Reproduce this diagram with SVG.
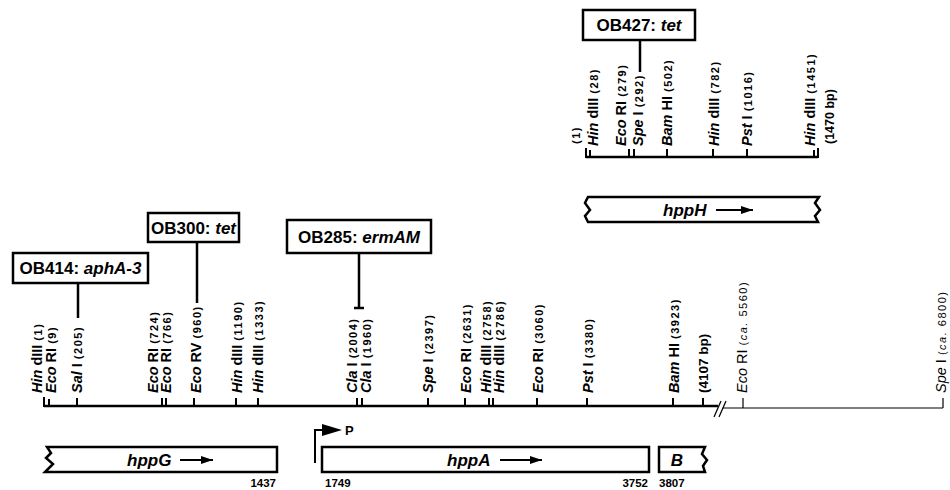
<svg xmlns="http://www.w3.org/2000/svg" width="950" height="490" viewBox="0 0 950 490">
<style>
text { font-family: "Liberation Sans", Arial, Helvetica, sans-serif; fill: #000; }
.l { font-size: 14.5px; font-weight: bold; }
.lr { font-size: 14.5px; font-weight: normal; }
.i { font-style: italic; }
.n { font-size: 11px; letter-spacing: 1.5px; }
.bx { font-size: 17px; font-weight: bold; }
.gn { font-size: 17px; font-weight: bold; font-style: italic; }
.num { font-size: 11.5px; font-weight: bold; }
.box { fill: #fff; stroke: #000; stroke-width: 2.5; }
.gene { fill: #fff; stroke: #000; stroke-width: 2.5; stroke-linejoin: miter; }
.base { stroke: #000; stroke-width: 2.5; fill: none; }
.tick { stroke: #000; stroke-width: 2; }
.thin { stroke: #000; stroke-width: 1.2; fill: none; }
.conn { stroke: #000; stroke-width: 2.5; fill: none; }
.arr { stroke: #000; stroke-width: 1.8; fill: none; }
</style>
<defs>
<marker id="ah" viewBox="0 0 12 8" refX="12" refY="4" markerWidth="12" markerHeight="8" markerUnits="userSpaceOnUse" orient="auto">
<path d="M0,0 L12,4 L0,8 Z" fill="#000"/>
</marker>
</defs>

<!-- main map axis -->
<g id="main-map">
<line class="base" x1="44" y1="406" x2="718" y2="406"/>
<line class="thin" x1="723" y1="408" x2="943" y2="408"/>
<line class="thin" x1="714" y1="417" x2="721" y2="401"/>
<line class="thin" x1="719" y1="417" x2="726" y2="401"/>
<g class="tick">
<line x1="44" y1="397" x2="44" y2="407"/>
<line x1="49" y1="399" x2="49" y2="406"/>
<line x1="77" y1="398" x2="77" y2="406"/>
<line x1="162" y1="398" x2="162" y2="406"/>
<line x1="166" y1="398" x2="166" y2="406"/>
<line x1="194" y1="398" x2="194" y2="406"/>
<line x1="236" y1="398" x2="236" y2="406"/>
<line x1="258" y1="398" x2="258" y2="406"/>
<line x1="357" y1="398" x2="357" y2="406"/>
<line x1="362" y1="398" x2="362" y2="406"/>
<line x1="428" y1="398" x2="428" y2="406"/>
<line x1="465" y1="398" x2="465" y2="406"/>
<line x1="489" y1="398" x2="489" y2="406"/>
<line x1="493" y1="398" x2="493" y2="406"/>
<line x1="537" y1="398" x2="537" y2="406"/>
<line x1="587" y1="398" x2="587" y2="406"/>
<line x1="673" y1="398" x2="673" y2="406"/>
<line x1="703" y1="398" x2="703" y2="407"/>
</g>
<line class="thin" x1="743" y1="398" x2="743" y2="408"/>
<line class="thin" x1="943" y1="398" x2="943" y2="408"/>
</g>

<g id="main-labels">
<text class="l" transform="translate(42,393) rotate(-90)"><tspan class="i">Hin</tspan> dIII <tspan class="n">(1)</tspan></text>
<text class="l" transform="translate(56,393) rotate(-90)"><tspan class="i">Eco</tspan> RI <tspan class="n">(9)</tspan></text>
<text class="l" transform="translate(82,393) rotate(-90)"><tspan class="i">Sal</tspan> I <tspan class="n">(205)</tspan></text>
<text class="l" transform="translate(158,393) rotate(-90)"><tspan class="i">Eco</tspan> RI <tspan class="n">(724)</tspan></text>
<text class="l" transform="translate(171,393) rotate(-90)"><tspan class="i">Eco</tspan> RI <tspan class="n">(766)</tspan></text>
<text class="l" transform="translate(201,393) rotate(-90)"><tspan class="i">Eco</tspan> RV <tspan class="n">(960)</tspan></text>
<text class="l" transform="translate(242,393) rotate(-90)"><tspan class="i">Hin</tspan> dIII <tspan class="n">(1190)</tspan></text>
<text class="l" transform="translate(263,393) rotate(-90)"><tspan class="i">Hin</tspan> dIII <tspan class="n">(1333)</tspan></text>
<text class="l" transform="translate(357,393) rotate(-90)"><tspan class="i">Cla</tspan> I <tspan class="n">(2004)</tspan></text>
<text class="l" transform="translate(371,393) rotate(-90)"><tspan class="i">Cla</tspan> I <tspan class="n">(1960)</tspan></text>
<text class="l" transform="translate(433,393) rotate(-90)"><tspan class="i">Spe</tspan> I <tspan class="n">(2397)</tspan></text>
<text class="l" transform="translate(471,393) rotate(-90)"><tspan class="i">Eco</tspan> RI <tspan class="n">(2631)</tspan></text>
<text class="l" transform="translate(491,393) rotate(-90)"><tspan class="i">Hin</tspan> dIII <tspan class="n">(2758)</tspan></text>
<text class="l" transform="translate(504,393) rotate(-90)"><tspan class="i">Hin</tspan> dIII <tspan class="n">(2786)</tspan></text>
<text class="l" transform="translate(543,393) rotate(-90)"><tspan class="i">Eco</tspan> RI <tspan class="n">(3060)</tspan></text>
<text class="l" transform="translate(593,393) rotate(-90)"><tspan class="i">Pst</tspan> I <tspan class="n">(3380)</tspan></text>
<text class="l" transform="translate(679,393) rotate(-90)"><tspan class="i">Bam</tspan> HI <tspan class="n">(3923)</tspan></text>
<text class="l" transform="translate(708,393) rotate(-90)" style="font-size:13.5px">(4107 bp)</text>
<text class="lr" transform="translate(747,393) rotate(-90)"><tspan class="i">Eco</tspan> RI <tspan class="n">(<tspan class="i">ca.</tspan> 5560)</tspan></text>
<text class="lr" transform="translate(946,393) rotate(-90)"><tspan class="i">Spe</tspan> I <tspan class="n">(<tspan class="i">ca.</tspan> 6800)</tspan></text>
</g>

<!-- hppH map -->
<g id="hppH-map">
<line class="base" x1="586" y1="157" x2="818" y2="157"/>
<g class="tick">
<line x1="586" y1="148" x2="586" y2="158"/>
<line x1="590" y1="150" x2="590" y2="157"/>
<line x1="629" y1="149" x2="629" y2="157"/>
<line x1="634" y1="149" x2="634" y2="157"/>
<line x1="667" y1="149" x2="667" y2="157"/>
<line x1="713" y1="149" x2="713" y2="157"/>
<line x1="747" y1="149" x2="747" y2="157"/>
<line x1="814" y1="150" x2="814" y2="157"/>
<line x1="818" y1="148" x2="818" y2="158"/>
</g>
</g>
<g id="hppH-labels">
<text class="l" transform="translate(580,144) rotate(-90)"><tspan class="n">(1)</tspan></text>
<text class="l" transform="translate(598,146) rotate(-90)"><tspan class="i">Hin</tspan> dIII <tspan class="n">(28)</tspan></text>
<text class="l" transform="translate(626,146) rotate(-90)"><tspan class="i">Eco</tspan> RI <tspan class="n">(279)</tspan></text>
<text class="l" transform="translate(643,146) rotate(-90)"><tspan class="i">Spe</tspan> I <tspan class="n">(292)</tspan></text>
<text class="l" transform="translate(672,146) rotate(-90)"><tspan class="i">Bam</tspan> HI <tspan class="n">(502)</tspan></text>
<text class="l" transform="translate(719,146) rotate(-90)"><tspan class="i">Hin</tspan> dIII <tspan class="n">(782)</tspan></text>
<text class="l" transform="translate(752,146) rotate(-90)"><tspan class="i">Pst</tspan> I <tspan class="n">(1016)</tspan></text>
<text class="l" transform="translate(815,146) rotate(-90)"><tspan class="i">Hin</tspan> dIII <tspan class="n">(1451)</tspan></text>
<text class="l" transform="translate(834,144) rotate(-90)" style="font-size:12.5px">(1470 bp)</text>
</g>

<!-- insertion boxes -->
<g id="OB414">
<rect class="box" x="13" y="253" width="135" height="30"/>
<text class="bx" x="80.5" y="274" text-anchor="middle">OB414: <tspan class="i">aphA-3</tspan></text>
</g>
<g id="OB300">
<rect class="box" x="148" y="213" width="91" height="29"/>
<text class="bx" x="193.5" y="233.5" text-anchor="middle">OB300: <tspan class="i">tet</tspan></text>
</g>
<g id="OB285">
<rect class="box" x="287" y="220" width="144" height="33"/>
<text class="bx" x="359" y="242.5" text-anchor="middle">OB285: <tspan class="i">ermAM</tspan></text>
</g>
<g id="OB427">
<rect class="box" x="583" y="10" width="112" height="30"/>
<text class="bx" x="639" y="31" text-anchor="middle">OB427: <tspan class="i">tet</tspan></text>
</g>

<g id="connectors">
<line class="conn" x1="78" y1="283" x2="78" y2="318"/>
<line class="conn" x1="197" y1="242" x2="197" y2="303"/>
<line class="conn" x1="359" y1="253" x2="359" y2="308"/>
<line class="conn" x1="354" y1="308" x2="364" y2="308"/>
<line class="conn" x1="640" y1="40" x2="640" y2="72"/>
</g>

<!-- genes -->
<g id="hppH">
<path class="gene" d="M588,197 L819,197 L815,203 L820,210 L815,216 L818,222 L588,222 L585,216 L590,210 L585,203 Z"/>
<text class="gn" x="663" y="216">hppH</text>
<line class="arr" x1="716" y1="210" x2="753" y2="210" marker-end="url(#ah)"/>
</g>
<g id="hppG">
<path class="gene" d="M47,447 L277,447 L277,472 L45,472 L53,464 L46,458 L51,453 Z"/>
<text class="gn" x="127" y="466">hppG</text>
<line class="arr" x1="180" y1="460" x2="213" y2="460" marker-end="url(#ah)"/>
<text class="num" x="276" y="487" text-anchor="end">1437</text>
</g>
<g id="promoter">
<path class="arr" d="M315,463 L315,430 L323,430" style="stroke-width:2"/>
<path d="M322,424 L342,430 L322,436 Z" fill="#000"/>
<text class="num" x="345" y="435" style="font-size:13px">P</text>
</g>
<g id="hppA">
<rect class="gene" x="322" y="447" width="327" height="25"/>
<text class="gn" x="447" y="466">hppA</text>
<line class="arr" x1="500" y1="460" x2="542" y2="460" marker-end="url(#ah)"/>
<text class="num" x="325" y="487">1749</text>
<text class="num" x="648" y="487" text-anchor="end">3752</text>
</g>
<g id="B">
<path class="gene" d="M659,447 L705,447 L702,454 L707,460 L703,466 L705,472 L659,472 Z"/>
<text class="gn" x="677" y="466" text-anchor="middle">B</text>
<text class="num" x="659" y="487">3807</text>
</g>
</svg>
